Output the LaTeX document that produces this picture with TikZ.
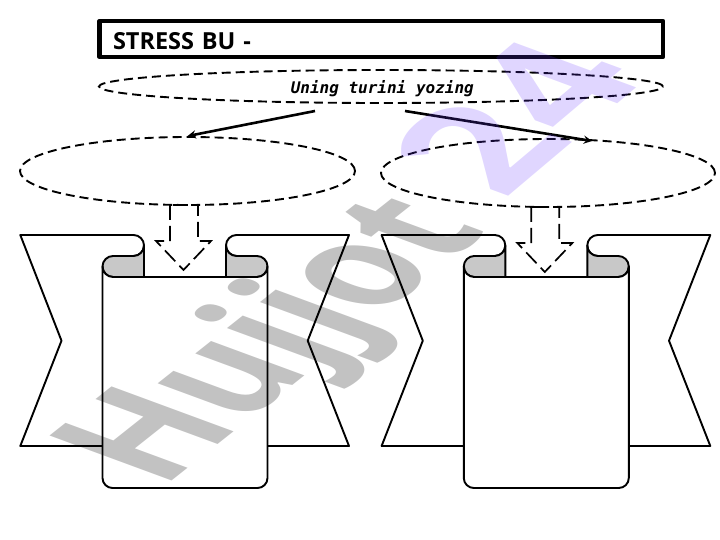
\documentclass[tikz,border=0pt]{standalone}
\usepackage{fontspec}
\usetikzlibrary{calc, shapes}
\setmainfont{Open Sans}
\newfontfamily\taskfont{DejaVu Sans Mono}
\definecolor{flapgray}{RGB}{200, 200, 200}
\definecolor{marklavender}{RGB}{100, 50, 255}
\tikzset{
    dash_ellipse/.style = {draw, ellipse, line width = 1.9pt, dash pattern = on 9pt off 5pt, inner sep = 0pt},
    dash_arrow/.style = {draw, line width = 1.7pt, dash pattern = on 15pt off 6pt},
    link_arrow/.style = {line width = 2.6pt, -stealth},
    ribbon_line/.style = {draw, line width = 1.9pt, line join = round},
    mark_text/.style = {anchor = base west, inner sep = 0pt, transform shape, font = \bfseries\fontsize{100}{100}\selectfont}
}

\begin{document}
\begin{tikzpicture}[x = 1pt, y = -1pt]
    \useasboundingbox (0, 0) rectangle (720, 540);

    \node[draw, line width = 4.2pt, line join = round, minimum width = 563.5pt, minimum height = 36pt, inner sep = 0pt, text width = 536.5pt, text height = 20.6pt, text depth = 0pt, align = left, font = \bfseries\fontsize{23.5}{26}\selectfont] (title) at (381.25, 39) {STRESS BU -};
    \node[dash_ellipse, minimum width = 564pt, minimum height = 33pt] (task) at (381, 86.5) {};
    \node[inner sep = 0pt, font = \taskfont\bfseries\itshape\fontsize{16}{18}\selectfont] (task_text) at (382.3, 88.5) {Uning turini yozing};
    \node[dash_ellipse, minimum width = 335pt, minimum height = 68pt] (answer_left) at (187.5, 171) {};
    \node[dash_ellipse, minimum width = 334pt, minimum height = 68pt] (answer_right) at (548, 173) {};

    \coordinate (start_left) at (315, 111);
    \coordinate (start_right) at (405, 111);
    \coordinate (end_right) at (592, 141);
    \draw[link_arrow] (start_left) -- (answer_left.north);
    \draw[link_arrow] (start_right) -- (end_right);

    \foreach \shift/\lift in {0/0, 361.3/2} {
        \begin{scope}[xshift = \shift pt]
            \draw[ribbon_line, fill = white] (133.5, 256) arc (90 : -90 : 10.5) -- (20.3, 235) -- (61.5, 340.7) -- (20.3, 446) -- (349, 446) -- (307.7, 340.7) -- (349, 235) -- (236.5, 235) arc (-90 : -270 : 10.5);
            \draw[ribbon_line, fill = flapgray] (144, 277) -- (144, 245.5) arc (0 : 90 : 10.5) -- (113, 256) arc (-90 : -270 : 10.5) -- cycle;
            \draw[ribbon_line, fill = flapgray] (226, 277) -- (226, 245.5) arc (180 : 90 : 10.5) -- (257, 256) arc (-90 : 90 : 10.5) -- cycle;
            \draw[ribbon_line, fill = white] (113, 277) arc (90 : 180 : 10.5) -- (102.5, 478) arc (180 : 90 : 10) -- (257.5, 488) arc (90 : 0 : 10) -- (267.5, 266.5) arc (0 : 90 : 10.5) -- cycle;
        \end{scope}
        \begin{scope}[xshift = \shift pt, yshift = -\lift pt]
            \draw[dash_arrow] (170, 205) -- (170, 241) -- (156, 241) -- (183.5, 270) -- (211, 241) -- (198, 241) -- (198, 205) -- cycle;
        \end{scope}
    }

    \begin{scope}[cm = {1.06, 0.84, -1.71, 0.63, (162, 489)}]
        \node[mark_text, text = black, text opacity = 0.24] (mark_word) at (0, 0) {Hujjot};
    \end{scope}
    \begin{scope}[cm = {1.28, 1.08, -1.71, 0.63, (503, 200.5)}]
        \node[mark_text, text = marklavender, text opacity = 0.2] (mark_year) at (0, 0) {24};
    \end{scope}
\end{tikzpicture}
\end{document}
